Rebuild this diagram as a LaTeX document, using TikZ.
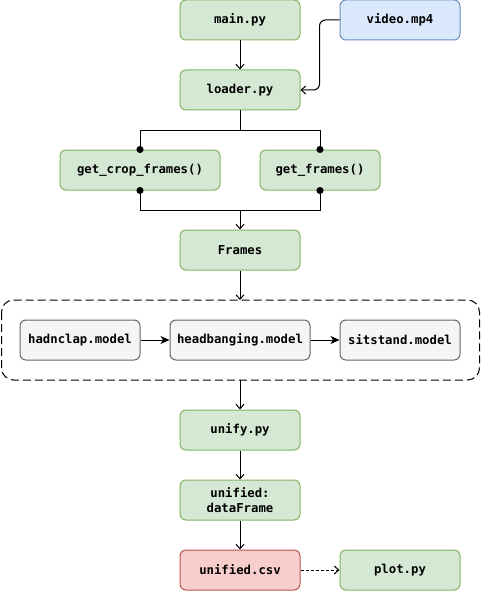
\documentclass[tikz,border=0pt]{standalone}
\usepackage{fontspec}
\newfontfamily\codefont{DejaVu Sans Mono}
\usetikzlibrary{arrows.meta}
\definecolor{grfill}{HTML}{D5E8D4}
\definecolor{grline}{HTML}{82B366}
\definecolor{blfill}{HTML}{DAE8FC}
\definecolor{blline}{HTML}{6C8EBF}
\definecolor{rdfill}{HTML}{F8CECC}
\definecolor{rdline}{HTML}{B85450}
\definecolor{gyfill}{HTML}{F5F5F5}
\definecolor{gyline}{HTML}{666666}
\begin{document}
\begin{tikzpicture}[x=1pt,y=-1pt,
  line width=1pt,
  box/.style={draw, rounded corners=6pt, minimum width=120pt, minimum height=40pt,
    inner sep=0pt, align=center, font=\codefont\bfseries\fontsize{12.3}{15}\selectfont},
  green/.style={box, fill=grfill, draw=grline},
  blue/.style={box, fill=blfill, draw=blline},
  red/.style={box, fill=rdfill, draw=rdline},
  grey/.style={box, fill=gyfill, draw=gyline},
  flow/.style={-{Straight Barb[length=4.5pt,width=8pt]}},
  solidflow/.style={-{Stealth[length=9pt,width=8pt,inset=2.5pt]}},
  dot/.style={-{Circle[length=7pt]}, shorten >=-3.5pt},
  dotstart/.style={{Circle[length=7pt]}-, shorten <=-3.5pt},
]
\useasboundingbox (0,0) rectangle (481,591);

% pipeline entry
\node[green] (main) at (240,20) {main.py};
\node[blue] (video) at (400,20) {video.mp4};
\node[green] (loader) at (240,90) {loader.py};

% frame extraction
\node[green, minimum width=160pt] (gcf) at (140,170) {get\_crop\_frames()};
\node[green] (gf) at (320,170) {get\_frames()};
\node[green] (frames) at (240,250) {Frames};

% model chain
\draw[dashed, dash pattern=on 8pt off 4pt, rounded corners=12pt]
  (1.5,300) rectangle (479.5,380);
\coordinate (modtop) at (240,300);
\coordinate (modbot) at (240,380);
\node[grey] (hand) at (80,340) {hadnclap.model};
\node[grey, minimum width=140pt] (head) at (240,340) {headbanging.model};
\node[grey] (sit) at (400,340) {sitstand.model};

% output
\node[green] (unify) at (240,430) {unify.py};
\node[green] (df) at (240,500) {unified:\\dataFrame};
\node[red] (csv) at (240,570) {unified.csv};
\node[green] (plot) at (400,570) {plot.py};

% connectors
\draw[flow] (main) -- (loader);
\draw[flow, rounded corners=6pt] (video.west) -- ++(-20,0) |- (loader.east);

\coordinate (split) at (240,130);
\coordinate (merge) at (240,210);
\draw (loader.south) -- (split);
\draw[dot] (split) -| (gcf.north);
\draw[dot] (split) -| (gf.north);
\draw[dotstart] (gcf.south) |- (merge);
\draw[dotstart] (gf.south) |- (merge);
\draw[flow] (merge) -- (frames.north);

\draw[flow] (frames) -- (modtop);
\draw[solidflow] (hand) -- (head);
\draw[solidflow] (head) -- (sit);
\draw[flow] (modbot) -- (unify);
\draw[flow] (unify) -- (df);
\draw[flow] (df) -- (csv);
\draw[flow, dash pattern=on 3pt off 2pt] (csv) -- (plot);
\end{tikzpicture}
\end{document}
